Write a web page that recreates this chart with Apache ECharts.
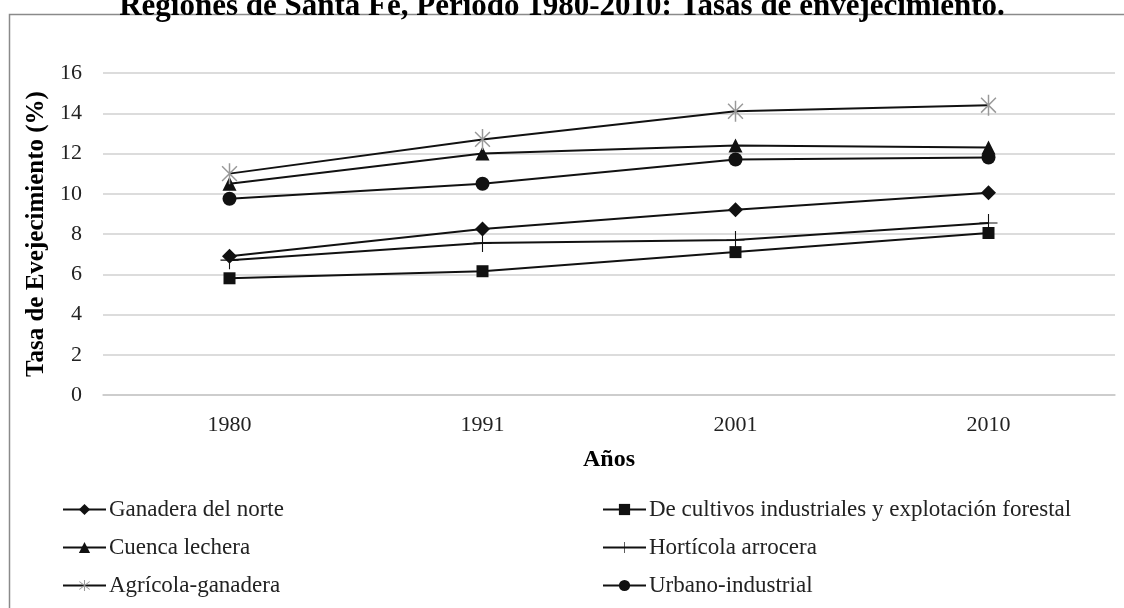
<!DOCTYPE html>
<html>
<head>
<meta charset="utf-8">
<script src="https://cdn.jsdelivr.net/npm/echarts@6/dist/echarts.min.js"></script>
<style>html,body{margin:0;padding:0;background:#fff;}#c{width:1124px;height:608px;}</style>
</head>
<body>
<div id="c"></div>
<script>
const years = ['1980', '1991', '2001', '2010'];
const ganaderaNorte = [6.9, 8.25, 9.2, 10.05];
const cultivosIndustriales = [5.8, 6.15, 7.1, 8.05];
const cuencaLechera = [10.5, 12.0, 12.4, 12.3];
const horticolaArrocera = [6.7, 7.55, 7.7, 8.55];
const agricolaGanadera = [11.0, 12.7, 14.1, 14.4];
const urbanoIndustrial = [9.75, 10.5, 11.7, 11.8];
const yTicks = [0, 2, 4, 6, 8, 10, 12, 14, 16];

const FONT = '"Liberation Serif", "Times New Roman", serif';
const plusPath = 'path://M-0.6,-10L0.6,-10L0.6,-0.6L10,-0.6L10,0.6L0.6,0.6L0.6,10L-0.6,10L-0.6,0.6L-10,0.6L-10,-0.6L-0.6,-0.6Z';
const starPath = 'path://M-0.7,-10L0.7,-10L0.7,10L-0.7,10Z' +
  'M6.576,-7.566L7.566,-6.576L-6.576,7.566L-7.566,6.576Z' +
  'M-7.566,-6.576L-6.576,-7.566L7.566,6.576L6.576,7.566Z';

function mk(name, data, symbol, size, color) {
  return {
    name: name, type: 'line', data: data,
    symbol: symbol, symbolSize: size, symbolKeepAspect: true,
    lineStyle: { color: '#111', width: 2 },
    itemStyle: { color: color || '#111', borderWidth: 0 },
    emphasis: { disabled: true },
    z: 3
  };
}

const chart = echarts.init(document.getElementById('c'), null, { renderer: 'canvas' });
chart.setOption({
  animation: false,
  backgroundColor: '#fff',
  graphic: [{
    type: 'rect', left: 7, top: 12, z: -1,
    shape: { width: 1140, height: 620 },
    style: { fill: 'none', stroke: '#8a8a8a', lineWidth: 1.5 }
  }],
  title: {
    text: 'Regiones de Santa Fe, Período 1980-2010: Tasas de envejecimiento.',
    left: 'center', top: -14,
    textStyle: { fontFamily: FONT, fontWeight: 'bold', fontSize: 31, color: '#000' }
  },
  grid: { left: 103, right: 9, top: 73, bottom: 213, containLabel: false },
  xAxis: {
    type: 'category', data: years, boundaryGap: true,
    name: 'Años', nameLocation: 'middle', nameGap: 53,
    nameTextStyle: { fontFamily: FONT, fontWeight: 'bold', fontSize: 24, color: '#000' },
    axisLine: { lineStyle: { color: '#c8c8c8', width: 1.5 } },
    axisTick: { show: false },
    axisLabel: { fontFamily: FONT, fontSize: 22, color: '#222', margin: 19 }
  },
  yAxis: {
    type: 'value', min: 0, max: 16, interval: 2,
    name: 'Tasa de Evejecimiento (%)', nameLocation: 'middle', nameGap: 50, nameRotate: 90,
    nameTextStyle: { fontFamily: FONT, fontWeight: 'bold', fontSize: 25, color: '#000' },
    axisLine: { show: false }, axisTick: { show: false },
    splitLine: { lineStyle: { color: '#d0d0d0', width: 1.5 } },
    axisLabel: { fontFamily: FONT, fontSize: 22, color: '#222', margin: 21,
      formatter: v => yTicks.includes(v) ? String(v) : '' }
  },
  legend: [{
    orient: 'vertical', left: 57, top: 493, itemGap: 15, itemWidth: 43, itemHeight: 14,
    data: ['Ganadera del norte', 'Cuenca lechera', 'Agrícola-ganadera'],
    textStyle: { fontFamily: FONT, fontSize: 23, color: '#222', padding: [0, 0, 0, -2] }
  }, {
    orient: 'vertical', left: 597, top: 493, itemGap: 15, itemWidth: 43, itemHeight: 14,
    data: ['De cultivos industriales y explotación forestal', 'Hortícola arrocera', 'Urbano-industrial'],
    textStyle: { fontFamily: FONT, fontSize: 23, color: '#222', padding: [0, 0, 0, -2] }
  }],
  series: [
    mk('Ganadera del norte', ganaderaNorte, 'diamond', 15),
    mk('De cultivos industriales y explotación forestal', cultivosIndustriales, 'rect', 12),
    mk('Cuenca lechera', cuencaLechera, 'triangle', 14),
    mk('Hortícola arrocera', horticolaArrocera, plusPath, 18),
    mk('Agrícola-ganadera', agricolaGanadera, starPath, 21, '#999'),
    mk('Urbano-industrial', urbanoIndustrial, 'circle', 14)
  ]
});
</script>
</body>
</html>
